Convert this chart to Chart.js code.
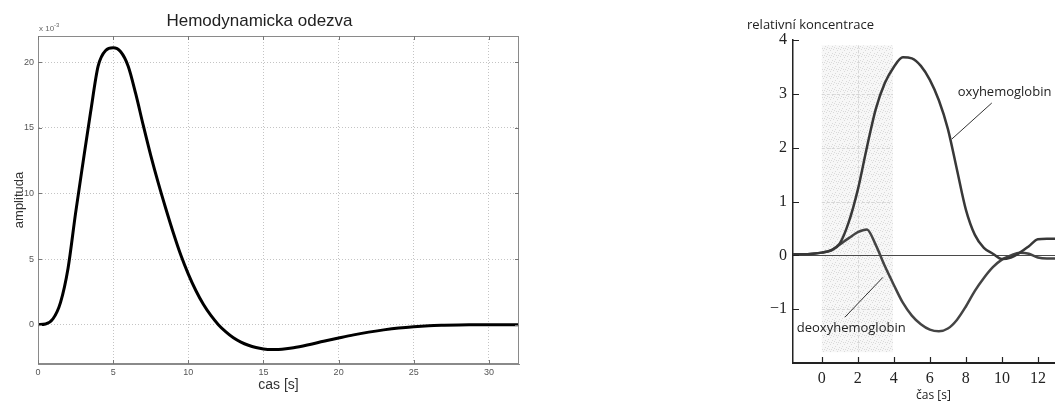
<!DOCTYPE html>
<html>
<head>
<meta charset="utf-8">
<script src="https://cdn.jsdelivr.net/npm/chart.js@4"></script>
<style>
  html, body { margin: 0; padding: 0; background: #fff; }
  body { width: 1055px; height: 401px; position: relative; overflow: hidden; }
  .panel { position: absolute; top: 0; height: 401px; }
  #hemoPanel { left: 0; width: 540px; }
  #concPanel { left: 700px; width: 355px; }
</style>
</head>
<body>
<div class="panel" id="hemoPanel"><canvas id="hemoChart"></canvas></div>
<div class="panel" id="concPanel"><canvas id="concChart"></canvas></div>
<script>
// Hemodynamic response function (amplitude in units of 1e-3)
const hrfTime = [0, 0.5, 1, 1.5, 2, 2.5, 3, 3.5, 4, 4.5, 5, 5.5, 6, 6.5, 7, 7.5, 8, 8.5, 9, 9.5,
  10, 10.5, 11, 11.5, 12, 12.5, 13, 13.5, 14, 14.5, 15, 15.5, 16, 16.5, 17,
  18, 19, 20, 21, 22, 23, 24, 25, 26, 27, 28, 29, 30, 31, 32];
const hrfAmp = [0, 0.05, 0.45, 1.7, 4.3, 8.5, 12.4, 16.2, 19.7, 20.9, 21.1, 20.8, 19.7, 17.6, 15.2, 12.9, 10.8, 8.85, 7.0, 5.3,
  3.85, 2.6, 1.55, 0.7, 0.0, -0.55, -1.0, -1.33, -1.57, -1.74, -1.85, -1.9, -1.89, -1.84, -1.76,
  -1.53, -1.27, -1.02, -0.78, -0.57, -0.4, -0.26, -0.16, -0.09, -0.05, -0.02, -0.01, 0, 0, 0];
const hrfXTicks = [0, 5, 10, 15, 20, 25, 30];
const hrfYTicks = [0, 5, 10, 15, 20];

// Relative concentration of oxy- / deoxyhemoglobin
const concTime = [-1.6, -1, -0.5, 0, 0.5, 1, 1.5, 2, 2.5, 3, 3.5, 4, 4.5, 5, 5.5, 6, 6.5, 7, 7.5, 8,
  8.5, 9, 9.5, 10, 10.5, 11, 11.5, 12, 12.5, 13];
const oxyValues = [0.02, 0.02, 0.03, 0.05, 0.09, 0.22, 0.62, 1.22, 2.0, 2.72, 3.2, 3.5, 3.68, 3.66, 3.52, 3.26, 2.88, 2.35, 1.6, 0.85,
  0.38, 0.14, 0.03, -0.07, -0.04, 0.05, 0.17, 0.3, 0.31, 0.31];
const deoxyValues = [0.02, 0.02, 0.03, 0.05, 0.09, 0.2, 0.32, 0.43, 0.48, 0.19, -0.2, -0.55, -0.88, -1.12, -1.28, -1.38, -1.41, -1.36, -1.2, -0.95,
  -0.66, -0.42, -0.22, -0.08, 0.0, 0.05, 0.03, -0.04, -0.06, -0.06];
const concXTicks = [0, 2, 4, 6, 8, 10, 12];
const concYTicks = [-1, 0, 1, 2, 3, 4];

Chart.defaults.font.family = 'Liberation Sans';

function toPoints(xs, ys) {
    return xs.map((x, i) => ({ x: x, y: ys[i] }));
}

function fixedTicks(list) {
    return scale => { scale.ticks = list.map(v => ({ value: v })); };
}

// short tick marks pointing into the plot area
function drawInnerTicks(chart, sides, len, color, width) {
    const { ctx, chartArea: a, scales: { x, y } } = chart;
    ctx.save();
    ctx.strokeStyle = color;
    ctx.lineWidth = width;
    ctx.beginPath();
    x.ticks.forEach(t => {
        const px = Math.round(x.getPixelForValue(t.value)) + 0.5;
        if (sides.includes('bottom')) { ctx.moveTo(px, a.bottom); ctx.lineTo(px, a.bottom - len); }
        if (sides.includes('top')) { ctx.moveTo(px, a.top); ctx.lineTo(px, a.top + len); }
    });
    y.ticks.forEach(t => {
        const py = Math.round(y.getPixelForValue(t.value)) + 0.5;
        if (sides.includes('left')) { ctx.moveTo(a.left, py); ctx.lineTo(a.left + len, py); }
        if (sides.includes('right')) { ctx.moveTo(a.right, py); ctx.lineTo(a.right - len, py); }
    });
    ctx.stroke();
    ctx.restore();
}

const hemoFrame = {
    id: 'hemoFrame',
    afterDraw(chart) {
        const { ctx, chartArea: a } = chart;
        ctx.save();
        ctx.strokeStyle = '#8a8a8a';
        ctx.lineWidth = 1;
        ctx.strokeRect(Math.round(a.left) + 0.5, Math.round(a.top) + 0.5,
            Math.round(a.right - a.left) - 1, Math.round(a.bottom - a.top) - 1);
        ctx.restore();
        drawInnerTicks(chart, ['top', 'bottom', 'left', 'right'], 4, '#777', 1);

        // exponent note above the y axis
        ctx.save();
        ctx.fillStyle = '#666';
        ctx.textBaseline = 'alphabetic';
        ctx.font = '8px "Liberation Sans"';
        ctx.fillText('x 10', a.left + 1, a.top - 5);
        const w = ctx.measureText('x 10').width;
        ctx.font = '6px "Liberation Sans"';
        ctx.fillText('-3', a.left + 1 + w, a.top - 9);
        ctx.restore();
    }
};

new Chart(document.getElementById('hemoChart'), {
    type: 'line',
    data: {
        datasets: [{
            data: toPoints(hrfTime, hrfAmp),
            borderColor: '#000',
            borderWidth: 3,
            pointRadius: 0,
            cubicInterpolationMode: 'monotone',
            fill: false
        }]
    },
    options: {
        responsive: true,
        maintainAspectRatio: false,
        animation: false,
        layout: { padding: { left: 0, right: 21, top: 0, bottom: 0 } },
        plugins: {
            legend: { display: false },
            tooltip: { enabled: false },
            title: {
                display: true,
                text: 'Hemodynamicka odezva',
                color: '#222',
                font: { size: 17, weight: 'normal' },
                padding: { top: 11, bottom: 4.6 }
            }
        },
        scales: {
            x: {
                type: 'linear',
                min: 0,
                max: 32,
                afterBuildTicks: fixedTicks(hrfXTicks),
                afterFit: s => { s.height = 37; },
                grid: { color: '#c4c4c4', drawTicks: false },
                border: { color: '#8a8a8a', dash: [1, 2] },
                ticks: { color: '#555', font: { size: 9 }, padding: 3, maxRotation: 0 },
                title: {
                    display: true,
                    text: 'cas [s]',
                    color: '#333',
                    font: { size: 14 },
                    padding: { top: 0, bottom: 7.6 }
                }
            },
            y: {
                min: -3,
                max: 22,
                afterBuildTicks: fixedTicks(hrfYTicks),
                afterFit: s => { s.width = 38; },
                grid: { color: '#c4c4c4', drawTicks: false },
                border: { color: '#8a8a8a', dash: [1, 2] },
                ticks: { color: '#555', font: { size: 9 }, padding: 4 },
                title: {
                    display: true,
                    text: 'amplituda',
                    color: '#333',
                    font: { size: 13 },
                    padding: { top: 12, bottom: 0 }
                }
            }
        }
    },
    plugins: [hemoFrame]
});

// light stipple pattern for the stimulus band
function stipple(ctx) {
    const c = document.createElement('canvas');
    c.width = 7; c.height = 7;
    const p = c.getContext('2d');
    p.fillStyle = '#f7f7f7';
    p.fillRect(0, 0, 7, 7);
    p.fillStyle = '#dadada';
    [[0, 0], [4, 1], [2, 3], [6, 4], [1, 5], [5, 6], [3, 6]].forEach(([i, j]) => p.fillRect(i, j, 1, 1));
    return ctx.createPattern(c, 'repeat');
}

const concNotes = {
    id: 'concNotes',
    beforeDraw(chart) {
        const { ctx, scales: { x, y } } = chart;
        const l = x.getPixelForValue(0), r = x.getPixelForValue(3.95);
        const t = y.getPixelForValue(3.9), b = y.getPixelForValue(-1.8);
        ctx.save();
        ctx.fillStyle = stipple(ctx);
        ctx.fillRect(l, t, r - l, b - t);
        ctx.strokeStyle = '#d6d6d6';
        ctx.lineWidth = 1;
        ctx.setLineDash([3, 2]);
        ctx.beginPath();
        [3, 2, 1, -1].forEach(v => {
            const py = Math.round(y.getPixelForValue(v)) + 0.5;
            ctx.moveTo(l, py); ctx.lineTo(r, py);
        });
        const gx = Math.round(x.getPixelForValue(2)) + 0.5;
        ctx.moveTo(gx, t); ctx.lineTo(gx, b);
        ctx.stroke();
        ctx.restore();
    },
    afterDraw(chart) {
        const { ctx, chartArea: a, scales: { x, y } } = chart;
        drawInnerTicks(chart, ['bottom', 'left'], 6, '#222', 1.2);

        ctx.save();
        ctx.fillStyle = '#222';
        ctx.textBaseline = 'middle';
        ctx.font = '13px "Open Sans"';
        ctx.textAlign = 'left';
        ctx.fillText('relativní koncentrace', a.left - 46, 25);
        ctx.fillText('oxyhemoglobin', x.getPixelForValue(7.55), y.getPixelForValue(3.03));
        ctx.fillText('deoxyhemoglobin', x.getPixelForValue(-1.39), y.getPixelForValue(-1.36));
        ctx.font = '12px "Open Sans"';
        ctx.textAlign = 'center';
        ctx.fillText('čas [s]', x.getPixelForValue(6.2), 396);

        // leader lines from the labels to the curves
        ctx.strokeStyle = '#333';
        ctx.lineWidth = 1;
        ctx.beginPath();
        ctx.moveTo(x.getPixelForValue(9.44), y.getPixelForValue(2.83));
        ctx.lineTo(x.getPixelForValue(7.22), y.getPixelForValue(2.16));
        ctx.moveTo(x.getPixelForValue(1.28), y.getPixelForValue(-1.15));
        ctx.lineTo(x.getPixelForValue(3.39), y.getPixelForValue(-0.41));
        ctx.stroke();
        ctx.restore();
    }
};

new Chart(document.getElementById('concChart'), {
    type: 'line',
    data: {
        datasets: [{
            label: 'oxyhemoglobin',
            data: toPoints(concTime, oxyValues),
            borderColor: '#383838',
            borderWidth: 2.5,
            pointRadius: 0,
            cubicInterpolationMode: 'monotone',
            fill: false
        }, {
            label: 'deoxyhemoglobin',
            data: toPoints(concTime, deoxyValues),
            borderColor: '#444',
            borderWidth: 2.5,
            pointRadius: 0,
            cubicInterpolationMode: 'monotone',
            fill: false
        }]
    },
    options: {
        responsive: true,
        maintainAspectRatio: false,
        animation: false,
        layout: { padding: { left: 0, right: 0, top: 40, bottom: 0 } },
        plugins: {
            legend: { display: false },
            tooltip: { enabled: false }
        },
        scales: {
            x: {
                type: 'linear',
                min: -1.6,
                max: 12.95,
                afterBuildTicks: fixedTicks(concXTicks),
                afterFit: s => { s.height = 38; },
                grid: { display: false },
                border: { color: '#222', width: 2 },
                ticks: { color: '#222', font: { family: 'Liberation Serif', size: 16 }, padding: -2, maxRotation: 0 }
            },
            y: {
                min: -2,
                max: 4,
                afterBuildTicks: fixedTicks(concYTicks),
                afterFit: s => { s.width = 93; },
                grid: {
                    color: c => (c.tick && c.tick.value === 0) ? '#4a4a4a' : 'rgba(0,0,0,0)',
                    lineWidth: 1,
                    drawTicks: false
                },
                border: { color: '#222', width: 1.5 },
                ticks: {
                    color: '#222',
                    font: { family: 'Liberation Serif', size: 16 },
                    padding: 6,
                    callback: v => v < 0 ? '\u2212' + Math.abs(v) : String(v)
                }
            }
        }
    },
    plugins: [concNotes]
});
</script>
</body>
</html>
